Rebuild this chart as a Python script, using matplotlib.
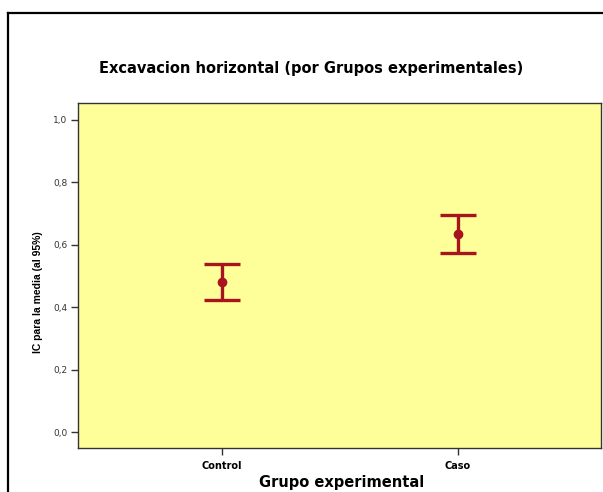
import numpy as np
import matplotlib
matplotlib.use("Agg")
import matplotlib.pyplot as plt
from matplotlib.lines import Line2D

# group means and 95% CI bounds
groups = ["Control", "Caso"]
means = [0.481, 0.634]
ci_low = [0.423, 0.572]
ci_high = [0.538, 0.695]
yticks = [0.0, 0.2, 0.4, 0.6, 0.8, 1.0]
ytick_labels = ["0,0", "0,2", "0,4", "0,6", "0,8", "1,0"]

plt.rcParams["font.family"] = ["DejaVu Sans"]

fig = plt.figure(figsize=(6.03, 4.92), dpi=100)
ax = fig.add_axes([0.1299, 0.0894, 0.8676, 0.7006])
ax.set_facecolor("#FFFF99")

x = np.arange(len(groups))
means = np.array(means)
yerr = [means - np.array(ci_low), np.array(ci_high) - means]
red = "#A8141E"
ax.errorbar(x, means, yerr=yerr, fmt="o", color=red, ecolor=red,
            elinewidth=2.4, capsize=13, capthick=2.4, markersize=6)

ax.set_xlim(-0.61, 1.61)
ax.set_ylim(-0.051, 1.053)
ax.set_xticks(x)
ax.set_xticklabels(groups, fontsize=7, fontweight="bold")
ax.set_yticks(yticks)
ax.set_yticklabels(ytick_labels, fontsize=6.5)
ax.tick_params(axis="both", direction="out", length=5, width=1, color="#333333")
ax.tick_params(axis="y", labelcolor="#333333", pad=3)
ax.tick_params(axis="x", pad=4)
for s in ax.spines.values():
    s.set_color("#333333")
    s.set_linewidth(1)

fig.text(311 / 603, 1 - 69 / 492, "Excavacion horizontal (por Grupos experimentales)",
         ha="center", va="center", fontsize=10.5, fontweight="bold")
fig.text(342 / 603, 1 - 483 / 492, "Grupo experimental",
         ha="center", va="center", fontsize=10.5, fontweight="bold")
fig.text(38 / 603, 1 - 292 / 492, "IC para la media (al 95%)", rotation=90,
         ha="center", va="center", fontsize=7.5, fontweight="bold",
         family=["Liberation Sans Narrow", "Liberation Sans", "DejaVu Sans"])

# outer frame (left and top edges)
fig.add_artist(Line2D([7.5 / 603, 7.5 / 603], [0, 1 - 13 / 492], color="black", lw=1.6,
                      transform=fig.transFigure))
fig.add_artist(Line2D([7.5 / 603, 1], [1 - 13 / 492, 1 - 13 / 492], color="black", lw=1.6,
                      transform=fig.transFigure))

fig.savefig("out.png", dpi=100)
